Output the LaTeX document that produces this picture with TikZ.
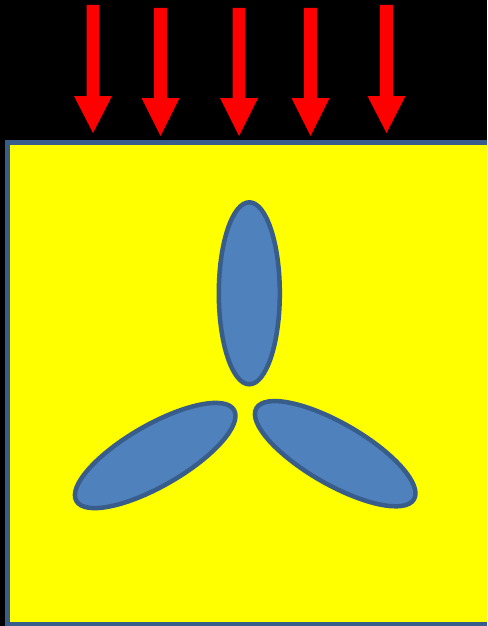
\documentclass[tikz,border=0pt]{standalone}
\definecolor{bladefill}{HTML}{4F81BD}
\definecolor{bladeline}{HTML}{385D8A}
\definecolor{plate}{HTML}{FFFF00}
\definecolor{arrowred}{HTML}{FF0000}
\begin{document}
\begin{tikzpicture}[x=1pt,y=-1pt,
  blade/.style={fill=bladefill,draw=bladeline,line width=4.5pt},
  platebox/.style={fill=plate,draw=bladeline,line width=5pt},
  loadarrow/.style={fill=arrowred}]
\fill[black] (0,0) rectangle (487,626);
\useasboundingbox (0,0) rectangle (487,626);
\begin{scope}
\clip (0,0) rectangle (487,626);
\draw[platebox] (7.5,142.5) rectangle (520,624.5);
\end{scope}
% arrows: centre x, shaft top, head top, tip
\foreach \cx/\st/\ht/\tp in {93/5/96/133, 160.5/8/98/136, 239/8/98/136, 310.5/8/98/136, 386.5/5/96/133}{
  \fill[loadarrow] (\cx-6.3,\st) -- (\cx+6.3,\st) -- (\cx+6.3,\ht) -- (\cx+19,\ht)
    -- (\cx,\tp) -- (\cx-19,\ht) -- (\cx-6.3,\ht) -- cycle;
}
\draw[blade] (249.3,293.3) ellipse [x radius=30.5, y radius=91];
\draw[blade,rotate around={-60:(155.2,455.5)}] (155.2,455.5) ellipse [x radius=30.5, y radius=91];
\draw[blade,rotate around={60:(335.2,453.7)}] (335.2,453.7) ellipse [x radius=30.5, y radius=91];
\end{tikzpicture}
\end{document}
